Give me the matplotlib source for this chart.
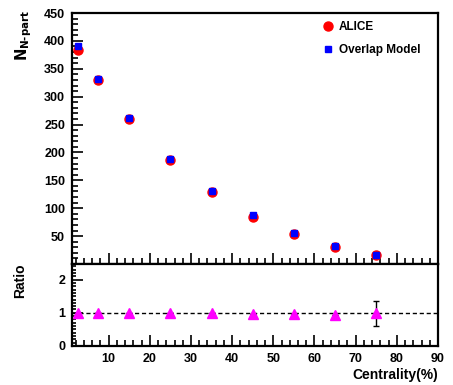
import matplotlib
matplotlib.use("Agg")
import matplotlib.pyplot as plt
from matplotlib.ticker import MultipleLocator, FixedLocator
from matplotlib.lines import Line2D

plt.rcParams['font.family'] = ['Liberation Sans', 'DejaVu Sans']
plt.rcParams['font.weight'] = 'bold'

centrality = [2.5, 7.5, 15, 25, 35, 45, 55, 65, 75]
alice = [384.0, 330.0, 260.5, 186.0, 129.0, 85.0, 53.0, 30.0, 15.6]
alice_err = [3.1, 4.6, 4.4, 3.9, 3.3, 2.6, 2.0, 1.3, 0.5]
model = [391.0, 331.0, 262.5, 188.0, 131.0, 87.5, 56.0, 32.0, 17.0]
model_err = [6.0, 2.0, 2.0, 2.0, 1.5, 1.0, 1.0, 1.0, 1.0]
ratio = [0.98, 0.99, 0.99, 0.99, 0.98, 0.97, 0.96, 0.93, 0.98]
ratio_err = [0.0, 0.0, 0.0, 0.0, 0.0, 0.0, 0.0, 0.0, 0.38]

W, H = 453, 385
fig = plt.figure(figsize=(W / 100, H / 100), dpi=100)

def fx(px):
    return px / W

def fy(py):
    return 1 - py / H

left, right = 72, 438
top_t, top_b = 13, 264
bot_b = 346

ax1 = fig.add_axes([fx(left), fy(top_b), fx(right - left), fy(top_t) - fy(top_b)])
ax2 = fig.add_axes([fx(left), fy(bot_b), fx(right - left), fy(top_b) - fy(bot_b)])

xmin, xmax = 1.1, 90

ax1.errorbar(centrality, alice, yerr=alice_err, fmt='o', color='#ff0000', ms=6.5,
             mec='#ff0000', elinewidth=1, capsize=0, zorder=3)
ax1.errorbar(centrality, model, yerr=model_err, fmt='s', color='#0000ff', ms=5,
             mec='#0000ff', elinewidth=1, ecolor='#0000ff', capsize=0, zorder=4)
ax1.set_xlim(xmin, xmax)
ax1.set_ylim(0, 450)
ax1.yaxis.set_major_locator(FixedLocator([50, 100, 150, 200, 250, 300, 350, 400, 450]))
ax1.yaxis.set_minor_locator(MultipleLocator(10))
ax1.xaxis.set_major_locator(MultipleLocator(10))
ax1.xaxis.set_minor_locator(MultipleLocator(2))
ax1.tick_params(axis='x', labelbottom=False)

ax2.errorbar(centrality, ratio, yerr=ratio_err, fmt='^', color='#ff00ff', ms=7,
             mec='#ff00ff', ecolor='black', elinewidth=1, capsize=2, zorder=3)
ax2.axhline(1.0, color='black', ls=(0, (3, 2)), lw=1, zorder=2)
ax2.set_xlim(xmin, xmax)
ax2.set_ylim(0, 2.47)
ax2.yaxis.set_major_locator(FixedLocator([0, 1, 2]))
ax2.yaxis.set_minor_locator(MultipleLocator(0.1))
ax2.xaxis.set_major_locator(FixedLocator([10, 20, 30, 40, 50, 60, 70, 80, 90]))
ax2.xaxis.set_minor_locator(MultipleLocator(2))

for ax in (ax1, ax2):
    for s in ax.spines.values():
        s.set_linewidth(1.6)
    ax.tick_params(which='both', direction='in', top=False, right=False,
                   width=1.2, labelsize=9)
    ax.tick_params(which='major', length=8, pad=5)
    ax.tick_params(which='minor', length=4)
    for lab in ax.get_xticklabels() + ax.get_yticklabels():
        lab.set_fontweight('bold')
ax2.tick_params(axis='y', which='minor', length=3)

handles = [
    Line2D([], [], ls='none', marker='o', color='#ff0000', ms=6.5),
    Line2D([], [], ls='none', marker='s', color='#0000ff', ms=4.5),
]
ax1.legend(handles, ['ALICE', 'Overlap Model'], loc='upper left',
           bbox_to_anchor=(0.645, 1.01), frameon=False,
           prop={'weight': 'bold', 'size': 8.5}, handletextpad=0.2,
           handlelength=1.5, labelspacing=0.95)

fig.text(fx(24), fy(10), r'$\mathbf{N}_{\mathbf{N\text{-}part}}$', rotation=90,
         ha='center', va='top', fontsize=10.5, fontweight='bold')
fig.text(fx(20), fy(281), 'Ratio', rotation=90, ha='center', va='center',
         fontsize=10, fontweight='bold')
fig.text(fx(438), fy(375), 'Centrality(%)', ha='right', va='center',
         fontsize=10, fontweight='bold')

fig.savefig('out.png', dpi=100)
